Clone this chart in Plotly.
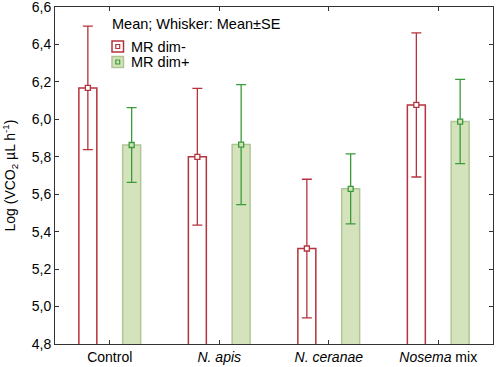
import numpy as np
import plotly.graph_objects as go

categories = ["Control", "<i>N. apis</i>", "<i>N. ceranae</i>", "<i>Nosema</i> mix"]
dim_minus_mean = [6.168, 5.800, 5.310, 6.077]
dim_minus_se = [0.330, 0.365, 0.370, 0.385]
dim_plus_mean = [5.863, 5.865, 5.629, 5.988]
dim_plus_se = [0.200, 0.320, 0.187, 0.225]
y_ticks = [4.8, 5.0, 5.2, 5.4, 5.6, 5.8, 6.0, 6.2, 6.4, 6.6]

RED = "#b5333d"
GREEN_LINE = "#3a9b3a"
GREEN_FILL = "#d5e3bd"
GREEN_EDGE = "#b0c596"
FONT = "Liberation Sans"

idx = np.arange(len(categories))
off = 0.2
bw = 0.164

fig = go.Figure()
fig.add_trace(go.Bar(x=idx - off, y=dim_minus_mean, width=bw,
                     marker=dict(color="white", line=dict(color=RED, width=1.5)),
                     showlegend=False))
fig.add_trace(go.Bar(x=idx + off, y=dim_plus_mean, width=bw,
                     marker=dict(color=GREEN_FILL, line=dict(color=GREEN_EDGE, width=1.5)),
                     showlegend=False))
fig.add_trace(go.Scatter(x=idx - off, y=dim_minus_mean, mode="markers",
                         marker=dict(symbol="square", size=5, color="white",
                                     line=dict(color=RED, width=1.3)),
                         error_y=dict(type="data", array=dim_minus_se, color=RED,
                                      thickness=1.3, width=5),
                         showlegend=False))
fig.add_trace(go.Scatter(x=idx + off, y=dim_plus_mean, mode="markers",
                         marker=dict(symbol="square", size=5, color=GREEN_FILL,
                                     line=dict(color=GREEN_LINE, width=1.3)),
                         error_y=dict(type="data", array=dim_plus_se, color=GREEN_LINE,
                                      thickness=1.3, width=5),
                         showlegend=False))

# custom legend (pixel -> paper conversion)
L, R, T, B = 55, 493, 7, 344
def px(x):
    return (x - L) / (R - L)
def py(y):
    return (B - y) / (B - T)

shapes = []
annotations = []
annotations.append(dict(x=px(110), y=py(24), xref="paper", yref="paper",
                        text="Mean; Whisker: Mean±SE", showarrow=False,
                        xanchor="left", yanchor="middle",
                        font=dict(family=FONT, size=14.5, color="black")))
legend_items = [("MR dim-", "white", RED, RED, 46.5),
                ("MR dim+", GREEN_FILL, GREEN_EDGE, GREEN_LINE, 62.0)]
for label, fill, edge, mk, yc in legend_items:
    shapes.append(dict(type="rect", xref="paper", yref="paper",
                       x0=px(112), x1=px(123.5), y0=py(yc - 5.5), y1=py(yc + 5.5),
                       fillcolor=fill, line=dict(color=edge, width=1.5)))
    shapes.append(dict(type="rect", xref="paper", yref="paper",
                       x0=px(115.8), x1=px(119.7), y0=py(yc - 2), y1=py(yc + 2),
                       fillcolor=fill, line=dict(color=mk, width=1.2)))
    annotations.append(dict(x=px(129), y=py(yc), xref="paper", yref="paper",
                            text=label, showarrow=False, xanchor="left", yanchor="middle",
                            font=dict(family=FONT, size=14.5, color="black")))

fig.update_layout(
    width=498, height=367,
    margin=dict(l=55, r=5, t=7, b=23, autoexpand=False),
    paper_bgcolor="white", plot_bgcolor="white",
    separators=",.",
    font=dict(family=FONT, size=14, color="black"),
    shapes=shapes, annotations=annotations,
    showlegend=False,
)
fig.update_xaxes(range=[-0.5, 3.5], tickmode="array", tickvals=idx, ticktext=categories,
                 ticks="inside", ticklen=4, tickcolor="#333", showline=True, linecolor="#333",
                 linewidth=1, mirror="ticks", showgrid=False, zeroline=False, automargin=False,
                 ticklabeloverflow="allow", tickfont=dict(family=FONT, size=14))
fig.update_yaxes(range=[4.8, 6.6001], tickmode="array", tickvals=y_ticks,
                 tickformat=".1f", ticks="inside", ticklen=4, tickcolor="#333",
                 showline=True, linecolor="#333", linewidth=1, mirror="ticks", automargin=False,
                 ticklabeloverflow="allow",
                 showgrid=False, zeroline=False, tickfont=dict(family=FONT, size=14),
                 title=dict(text="Log (VCO<sub>2</sub> µL h<sup>-1</sup>)",
                            font=dict(family=FONT, size=14), standoff=12))

fig.write_html("out.html", config={"displayModeBar": False},
               post_script="document.body.style.margin='0';document.body.style.overflow='hidden';")
